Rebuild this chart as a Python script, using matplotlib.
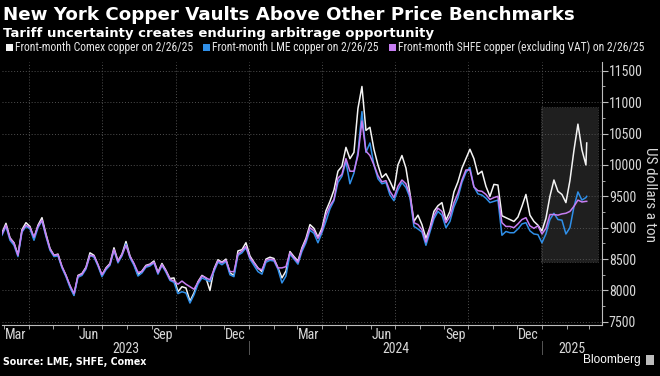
import pandas as pd
import matplotlib
matplotlib.use('Agg')
import matplotlib.pyplot as plt
import matplotlib.dates as mdates
import matplotlib.transforms as mtransforms
from matplotlib import font_manager
from matplotlib.patches import Rectangle
from matplotlib.ticker import MultipleLocator, FuncFormatter, FixedLocator

# 5-day samples, plus the last day (2/26/25)
dates = list(pd.date_range('2023-02-26', '2025-02-25', freq='5D')) + [pd.Timestamp('2025-02-26')]

lme = [8880, 9020, 8800, 8720, 8540, 8930, 9020, 8980, 8800, 9000,
       9110, 8860, 8640, 8540, 8550, 8360, 8220, 8050, 7920, 8210,
       8240, 8340, 8560, 8530, 8390, 8220, 8330, 8400, 8640, 8440,
       8550, 8740, 8520, 8400, 8230, 8280, 8370, 8390, 8440, 8260,
       8400, 8290, 8160, 8130, 7950, 7980, 7960, 7800, 7930, 8100,
       8200, 8170, 8140, 8300, 8450, 8410, 8460, 8250, 8220, 8560,
       8600, 8680, 8500, 8400, 8300, 8260, 8450, 8480, 8470, 8340,
       8120, 8230, 8580, 8500, 8420, 8620, 8760, 8960, 8910, 8760,
       8920, 9100, 9300, 9430, 9720, 9820, 10050, 9700, 9870, 10200,
       10850, 10200, 10350, 10000, 9780, 9700, 9720, 9520, 9430, 9600,
       9720, 9640, 9480, 9020, 8980, 8930, 8720, 8930, 9140, 9260,
       9200, 9000, 9100, 9330, 9480, 9720, 9880, 9960, 9650, 9540,
       9520, 9470, 9400, 9420, 9440, 8880, 8940, 8920, 8920, 8980,
       9060, 9080, 8950, 8900, 8890, 8760, 8900, 9130, 9230, 9130,
       9120, 8900, 9000, 9330, 9570, 9440, 9480, 9500]

shfe = [8900, 9040, 8830, 8750, 8560, 8950, 9040, 9000, 8850, 9020,
        9120, 8880, 8660, 8560, 8570, 8380, 8240, 8080, 7950, 8230,
        8260, 8360, 8560, 8550, 8410, 8250, 8350, 8420, 8650, 8460,
        8570, 8720, 8540, 8430, 8290, 8300, 8390, 8410, 8450, 8280,
        8410, 8310, 8180, 8150, 8100, 8150, 8100, 8060, 8020, 8130,
        8230, 8200, 8170, 8330, 8470, 8440, 8480, 8300, 8300, 8580,
        8630, 8700, 8520, 8440, 8350, 8330, 8480, 8500, 8490, 8360,
        8360, 8380, 8600, 8520, 8450, 8660, 8800, 9000, 8950, 8830,
        8950, 9200, 9350, 9450, 9790, 9850, 10100, 9900, 9900, 10150,
        10700, 10220, 10150, 10000, 9830, 9730, 9750, 9580, 9480, 9660,
        9760, 9700, 9520, 9080, 9050, 8970, 8770, 8980, 9190, 9310,
        9260, 9080, 9180, 9400, 9550, 9760, 9920, 9920, 9650, 9590,
        9580, 9530, 9450, 9480, 9500, 9080, 9020, 9020, 9000, 9060,
        9130, 9160, 9030, 8990, 9030, 8900, 8990, 9210, 9210, 9200,
        9220, 9230, 9260, 9340, 9440, 9410, 9420, 9420]

comex = [8920, 9070, 8840, 8760, 8570, 8970, 9080, 9020, 8830, 9040,
         9160, 8900, 8670, 8560, 8580, 8380, 8240, 8070, 7930, 8240,
         8270, 8370, 8600, 8560, 8410, 8240, 8360, 8430, 8680, 8470,
         8580, 8780, 8550, 8420, 8250, 8310, 8400, 8420, 8470, 8290,
         8430, 8320, 8190, 8200, 7980, 8060, 8040, 7830, 7960, 8140,
         8240, 8200, 8000, 8340, 8490, 8450, 8500, 8280, 8240, 8630,
         8650, 8760, 8550, 8450, 8360, 8300, 8500, 8530, 8510, 8360,
         8200, 8310, 8620, 8540, 8470, 8680, 8830, 9050, 8990, 8850,
         8990, 9270, 9420, 9600, 9900, 9980, 10280, 10100, 10200, 10900,
         11250, 10550, 10600, 10250, 10000, 9800, 9860, 9740, 9600, 10000,
         10150, 9950, 9550, 9100, 9200, 9050, 8830, 9000, 9260, 9350,
         9400, 9120, 9260, 9570, 9730, 9950, 10100, 10250, 10100, 9850,
         9900, 9660, 9500, 9690, 9680, 9190, 9160, 9130, 9100, 9170,
         9340, 9530, 9200, 9100, 9040, 8950, 9150, 9500, 9760, 9580,
         9530, 9400, 9750, 10230, 10650, 10240, 10000, 10350]

assert len(dates) == len(lme) == len(shfe) == len(comex)

legend_labels = ['Front-month Comex copper on 2/26/25',
                 'Front-month LME copper on 2/26/25',
                 'Front-month SHFE copper (excluding VAT) on 2/26/25']
colors = ['#f4f4f4', '#2f8fe8', '#c77ef2']
# month labels sit mid-month
month_ticks = pd.date_range('2023-03-01', '2024-12-01', freq='3MS') + pd.Timedelta(days=14)
years = [2023, 2024, 2025]

box_start, box_end = pd.Timestamp('2024-12-31'), pd.Timestamp('2025-03-12')
box_lo, box_hi = 8450, 10930

# a condensed face if one is there, else Liberation Sans
names = {f.name for f in font_manager.fontManager.ttflist}
narrow = 'Liberation Sans'
for cand in ['Roboto Condensed', 'Archivo Narrow', 'Asap Condensed', 'Liberation Sans Narrow']:
    if cand in names:
        narrow = cand
        break
small = 10 if narrow != 'Liberation Sans' else 9
plt.rcParams['font.family'] = [narrow, 'DejaVu Sans']

W, H = 660, 376
fig = plt.figure(figsize=(W / 100, H / 100), dpi=100, facecolor='black')
ax = fig.add_axes([0.003, 1 - 325 / H, 0.909, (325 - 62) / H], facecolor='black')

x0 = mdates.date2num(box_start)
ax.add_patch(Rectangle((x0, box_lo), mdates.date2num(box_end) - x0, box_hi - box_lo,
                       facecolor='#1f1f1f', edgecolor='#3c3c3c', lw=0.7, ls=':', zorder=0.5))

ax.plot(dates, comex, color=colors[0], lw=1.1, zorder=3)
ax.plot(dates, lme, color=colors[1], lw=1.1, zorder=4)
ax.plot(dates, shfe, color=colors[2], lw=1.1, zorder=5)

ax.set_xlim(pd.Timestamp('2023-02-26'), pd.Timestamp('2025-03-17'))
ax.set_ylim(7450, 11640)

# grid
ax.yaxis.set_major_locator(MultipleLocator(500))
ax.yaxis.set_minor_locator(MultipleLocator(250))
ax.grid(axis='y', which='major', color='#505050', ls=(0, (1, 2)), lw=0.7, zorder=1)
for q in pd.date_range('2023-04-01', '2025-01-01', freq='QS'):
    ax.axvline(q, color='#505050', ls=(0, (1, 2)), lw=0.7, zorder=1)

for s in ['top', 'left']:
    ax.spines[s].set_visible(False)
for s in ['right', 'bottom']:
    ax.spines[s].set_color('#bdbdbd')
    ax.spines[s].set_linewidth(0.8)

ax.yaxis.tick_right()
ax.yaxis.set_major_formatter(FuncFormatter(lambda v, p: '%d' % v))
ax.tick_params(axis='y', which='major', length=4, color='#bdbdbd', labelcolor='#d8d8d8',
               labelsize=small, pad=1)
ax.tick_params(axis='y', which='minor', length=2, color='#bdbdbd')

ax.xaxis.set_major_locator(FixedLocator(mdates.date2num(month_ticks)))
ax.xaxis.set_major_formatter(mdates.DateFormatter('%b'))
ax.xaxis.set_minor_locator(mdates.MonthLocator())
ax.tick_params(axis='x', which='major', length=0, labelcolor='#d8d8d8', labelsize=small, pad=2)
ax.tick_params(axis='x', which='minor', length=3, color='#bdbdbd')

def fy(px):
    return 1 - px / H

# year labels and dividers
xl = ax.get_xlim()
blend = mtransforms.blended_transform_factory(ax.transData, fig.transFigure)
for yr in years:
    a = max(mdates.date2num(pd.Timestamp(f'{yr}-01-01')), xl[0])
    b = min(mdates.date2num(pd.Timestamp(f'{yr + 1}-01-01')), xl[1])
    ax.text((a + b) / 2, fy(349), str(yr), transform=blend,
            ha='center', va='center', color='#d8d8d8', fontsize=small)
    if yr > years[0]:
        ax.plot([a, a], [fy(341), fy(354)], transform=blend,
                color='#555555', lw=0.7, clip_on=False)

fig.text(650 / W, fy(195), 'US dollars a ton', rotation=270, color='#d8d8d8',
         fontsize=small + 1, va='center', ha='center')

renderer = fig.canvas.get_renderer()

def width(t):
    return t.get_window_extent(renderer).width

def fit(t, width_px):
    t.set_fontsize(t.get_fontsize() * width_px / width(t))
    return t.get_fontsize()

t = fig.text(3 / W, fy(15), 'New York Copper Vaults Above Other Price Benchmarks',
             color='white', fontsize=14, fontweight='bold', family=['DejaVu Sans'],
             va='center', ha='left')
fit(t, 576)
t = fig.text(3 / W, fy(33), 'Tariff uncertainty creates enduring arbitrage opportunity',
             color='white', fontsize=10, fontweight='bold', family=['DejaVu Sans'],
             va='center', ha='left')
fit(t, 430)

# legend: one size for all three, laid out in a row from x=6 to x=642
sq, gap_in, gap_out = 7, 2, 10
probe = fig.text(0, 0, ''.join(legend_labels), fontsize=8.5)
leg_fs = min(fit(probe, 636 - 3 * (sq + gap_in) - 2 * gap_out), 9.5)
probe.remove()
lx = 6
for lab, c in zip(legend_labels, colors):
    fig.patches.append(Rectangle((lx / W, fy(51)), sq / W, sq / H, facecolor=c,
                                 transform=fig.transFigure, figure=fig))
    t = fig.text((lx + sq + gap_in) / W, fy(47.5), lab, color='#e6e6e6', fontsize=leg_fs,
                 va='center', ha='left')
    lx += sq + gap_in + width(t) + gap_out

t = fig.text(3 / W, fy(362), 'Source: LME, SHFE, Comex', color='white', fontsize=7,
             fontweight='bold', family=['DejaVu Sans'], va='center', ha='left')
fit(t, 145)
t = fig.text(641 / W, fy(360), 'Bloomberg', color='white', fontsize=10,
             family=['Liberation Sans'], va='center', ha='right')
fit(t, 58)
fig.patches.append(Rectangle((646 / W, fy(365)), 8 / W, 10 / H, facecolor='#bdbdbd',
                             transform=fig.transFigure, figure=fig))

fig.savefig('out.png', dpi=100, facecolor='black')
